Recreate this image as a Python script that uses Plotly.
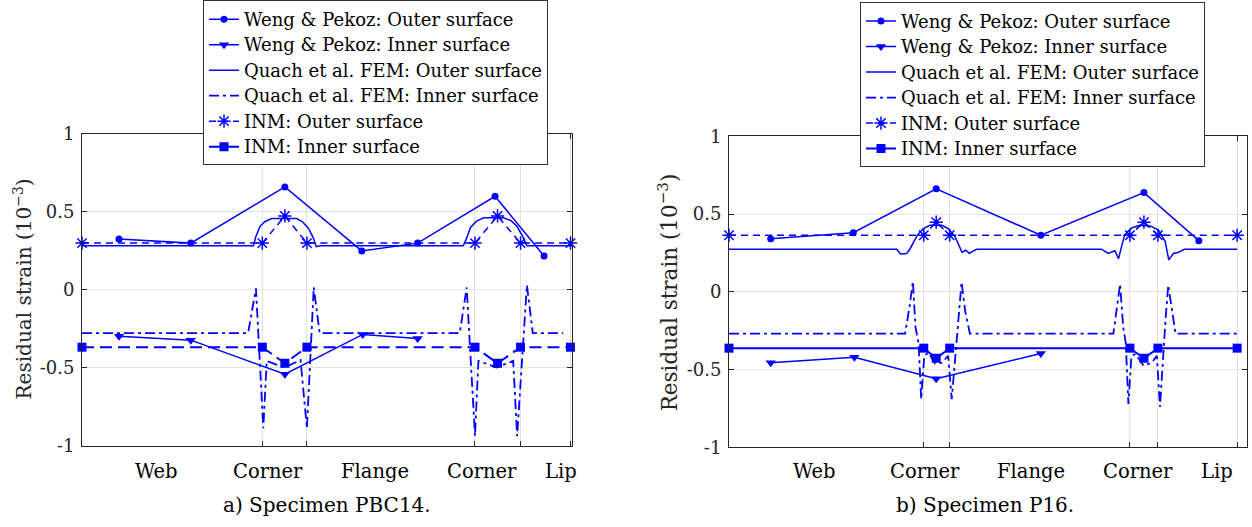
import plotly.graph_objects as go

BLUE = "#0000ff"
FONT = "DejaVu Serif, Liberation Serif, serif"

# ---------------- Panel a) Specimen PBC14 ----------------
a_bounds = [36.8, 45.9, 80.2, 89.5, 99.7]
a_labels = ["Web", "Corner", "Flange", "Corner", "Lip"]
a_label_x = [15.0, 37.9, 59.7, 81.6, 97.7]

a_weng_out_x = [7.55, 22.2, 41.4, 57.1, 68.5, 84.3, 94.3]
a_weng_out_y = [0.326, 0.30, 0.66, 0.25, 0.30, 0.60, 0.217]

a_weng_in_x = [7.55, 22.2, 41.4, 57.3, 68.5]
a_weng_in_y = [-0.297, -0.322, -0.54, -0.285, -0.312]

a_fem_out_x = [0, 35.0, 35.4, 36.3, 37.3, 38.7, 43.8, 45.0, 46.2, 47.2, 47.8, 48.6,
               77.8, 78.4, 79.3, 80.5, 82.0, 86.0, 87.5, 88.8, 89.9, 90.8, 100]
a_fem_out_y = [0.283, 0.283, 0.334, 0.406, 0.437, 0.457, 0.457, 0.437, 0.396, 0.334, 0.277, 0.283,
               0.283, 0.324, 0.40, 0.441, 0.462, 0.462, 0.445, 0.406, 0.345, 0.283, 0.283]

a_fem_in_x = [0, 33.9, 35.5, 37.0, 37.7, 41.3, 44.6, 45.9, 47.3, 48.5,
              77.1, 78.5, 80.2, 80.9, 84.6, 88.0, 88.8, 90.8, 92.0, 98.2]
a_fem_in_y = [-0.277, -0.277, 0.010, -0.886, -0.455, -0.497, -0.45, -0.886, 0.017, -0.277,
              -0.277, 0.016, -0.937, -0.455, -0.497, -0.455, -0.937, 0.031, -0.277, -0.277]

a_inm_x = [0, 36.8, 41.4, 45.9, 80.2, 84.8, 89.5, 99.7]
a_inm_out_y = [0.30, 0.30, 0.474, 0.30, 0.30, 0.474, 0.30, 0.30]
a_inm_in_y = [-0.367, -0.367, -0.47, -0.367, -0.367, -0.47, -0.367, -0.367]

# ---------------- Panel b) Specimen P16 ----------------
b_bounds = [37.6, 42.6, 77.4, 82.8, 98.1]
b_labels = ["Web", "Corner", "Flange", "Corner", "Lip"]
b_label_x = [16.4, 37.8, 58.3, 78.9, 94.2]

b_weng_out_x = [8.05, 24.0, 40.0, 60.2, 80.1, 90.7]
b_weng_out_y = [0.342, 0.380, 0.663, 0.364, 0.638, 0.329]

b_weng_in_x = [8.05, 24.2, 40.0, 60.2]
b_weng_in_y = [-0.456, -0.421, -0.558, -0.397]

b_fem_out_x = [0, 32.4, 33.1, 34.3, 34.9, 35.4, 36.4, 37.5, 38.8, 41.1, 42.3, 43.6, 44.6, 45.0,
               45.7, 46.4, 47.0, 47.8, 71.9, 73.2, 74.5, 75.2, 75.8, 76.4, 77.7, 79.3, 81.3,
               82.9, 84.2, 84.9, 85.8, 86.8, 87.9, 98.1]
b_fem_out_y = [0.274, 0.274, 0.243, 0.247, 0.274, 0.305, 0.366, 0.407, 0.428, 0.428, 0.407, 0.356,
               0.284, 0.254, 0.268, 0.247, 0.26, 0.274, 0.274, 0.247, 0.264, 0.213, 0.294, 0.366,
               0.411, 0.428, 0.424, 0.397, 0.325, 0.206, 0.247, 0.254, 0.274, 0.274]

b_fem_in_x = [0, 34.0, 34.9, 35.5, 36.0, 36.6, 37.1, 37.7, 38.5, 39.8, 41.1, 42.3, 43.0, 43.8,
              44.3, 44.9, 45.6, 46.5, 74.2, 75.0, 75.5, 76.1, 76.6, 77.1, 77.7, 78.5, 80.0,
              81.6, 82.6, 83.2, 83.8, 84.3, 84.8, 85.5, 86.2, 98.1]
b_fem_in_y = [-0.268, -0.268, -0.084, 0.067, -0.227, -0.33, -0.69, -0.411, -0.39, -0.462, -0.456,
              -0.411, -0.69, -0.39, -0.166, 0.063, -0.125, -0.268, -0.268, -0.084, 0.049, -0.227,
              -0.33, -0.72, -0.411, -0.40, -0.474, -0.456, -0.411, -0.74, -0.39, -0.166, 0.043,
              -0.125, -0.268, -0.268]

b_inm_x = [0, 37.6, 40.0, 42.6, 77.4, 80.1, 82.8, 98.1]
b_inm_out_y = [0.364, 0.364, 0.448, 0.364, 0.364, 0.448, 0.364, 0.364]
b_inm_in_y = [-0.362, -0.362, -0.427, -0.362, -0.362, -0.427, -0.362, -0.362]

y_ticks = [-1, -0.5, 0, 0.5, 1]
y_ticktext = ["-1", "-0.5", "0", "0.5", "1"]

names = ["Weng & Pekoz: Outer surface", "Weng & Pekoz: Inner surface",
         "Quach et al. FEM: Outer surface", "Quach et al. FEM: Inner surface",
         "INM: Outer surface", "INM: Inner surface"]

fig = go.Figure()


def nm(s):
    return '<span style="font-size:18px">' + s + '</span>'


def add_panel(xa, ya, leg, wox, woy, wix, wiy, fox, foy, fix, fiy, ix, ioy, iiy, inm_in_dash):
    common = dict(xaxis=xa, yaxis=ya, legend=leg, cliponaxis=False, mode="lines+markers")
    fig.add_trace(go.Scatter(x=wox, y=woy, name=nm(names[0]),
                             line=dict(color=BLUE, width=1.5),
                             marker=dict(symbol="circle", size=7, color=BLUE), **common))
    fig.add_trace(go.Scatter(x=wix, y=wiy, name=nm(names[1]),
                             line=dict(color=BLUE, width=1.5),
                             marker=dict(symbol="triangle-down", size=9, color=BLUE), **common))
    c2 = dict(common)
    c2["mode"] = "lines"
    fig.add_trace(go.Scatter(x=fox, y=foy, name=nm(names[2]),
                             line=dict(color=BLUE, width=1.5), **c2))
    fig.add_trace(go.Scatter(x=fix, y=fiy, name=nm(names[3]),
                             line=dict(color=BLUE, width=1.8, dash="10px,4px,3px,4px"), **c2))
    fig.add_trace(go.Scatter(x=ix, y=ioy, name=nm(names[4]),
                             line=dict(color=BLUE, width=1.5, dash="7px,5px"),
                             marker=dict(symbol="asterisk-open", size=11,
                                         line=dict(color=BLUE, width=1.5)), **common))
    fig.add_trace(go.Scatter(x=ix, y=iiy, name=nm(names[5]),
                             line=dict(color=BLUE, width=2, dash=inm_in_dash),
                             marker=dict(symbol="square", size=9, color=BLUE), **common))


add_panel("x", "y", "legend", a_weng_out_x, a_weng_out_y, a_weng_in_x, a_weng_in_y,
          a_fem_out_x, a_fem_out_y, a_fem_in_x, a_fem_in_y, a_inm_x, a_inm_out_y, a_inm_in_y,
          "12px,6px")
add_panel("x2", "y2", "legend2", b_weng_out_x, b_weng_out_y, b_weng_in_x, b_weng_in_y,
          b_fem_out_x, b_fem_out_y, b_fem_in_x, b_fem_in_y, b_inm_x, b_inm_out_y, b_inm_in_y,
          "solid")

AX = "#262626"
GRID = "#e2e2e2"


def xaxis(domain, anchor, ticks):
    return dict(domain=domain, anchor=anchor, range=[0, 100], tickvals=ticks,
                showticklabels=False, ticks="inside", ticklen=5, tickcolor=AX,
                showline=True, linecolor=AX, linewidth=1, mirror="ticks",
                showgrid=True, gridcolor=GRID, gridwidth=1, zeroline=False)


def yaxis(domain, anchor):
    return dict(domain=domain, anchor=anchor, range=[-1, 1], tickvals=y_ticks,
                ticktext=y_ticktext, ticks="inside", ticklen=5, tickcolor=AX,
                tickfont=dict(family=FONT, size=18, color=AX), ticklabelstandoff=3,
                showline=True, linecolor=AX, linewidth=1, mirror="ticks",
                showgrid=True, gridcolor=GRID, gridwidth=1, zeroline=False)


W, H = 1252, 527
legend_common = dict(bgcolor="white", bordercolor="#333333", borderwidth=1,
                     font=dict(family=FONT, size=17.3, color="black"),
                     itemwidth=30, tracegroupgap=0, xanchor="left", yanchor="top")

fig.update_layout(
    width=W, height=H, margin=dict(l=0, r=0, t=0, b=0),
    paper_bgcolor="white", plot_bgcolor="white", showlegend=True,
    xaxis=xaxis([82 / W, 572 / W], "y", a_bounds),
    yaxis=yaxis([1 - 453 / H, 1 - 128 / H], "x"),
    xaxis2=xaxis([729 / W, 1247 / W], "y2", b_bounds),
    yaxis2=yaxis([1 - 454.5 / H, 1 - 130.5 / H], "x2"),
    legend=dict(x=203 / W, y=1 + 11 / H, **legend_common),
    legend2=dict(x=860 / W, y=1 + 9 / H, **legend_common),
)

LBL = dict(family=FONT, size=19.5, color="black")
CAP = dict(family=FONT, size=20, color="black")
ann = []
for lx, lt in zip(a_label_x, a_labels):
    ann.append(dict(x=lx, y=1 - 480 / H, xref="x", yref="paper", text=lt, showarrow=False,
                    xanchor="center", yanchor="middle", font=LBL))
for lx, lt in zip(b_label_x, b_labels):
    ann.append(dict(x=lx, y=1 - 480 / H, xref="x2", yref="paper", text=lt, showarrow=False,
                    xanchor="center", yanchor="middle", font=LBL))
ann.append(dict(x=327 / W, y=1 - 515 / H, xref="paper", yref="paper", text="a) Specimen PBC14.",
                showarrow=False, xanchor="center", yanchor="middle", font=CAP))
ann.append(dict(x=985 / W, y=1 - 515 / H, xref="paper", yref="paper", text="b) Specimen P16.",
                showarrow=False, xanchor="center", yanchor="middle", font=CAP))
ann.append(dict(x=23 / W, y=1 - 290 / H, xref="paper", yref="paper",
                text="Residual strain (10<sup>−3</sup>)", textangle=-90, showarrow=False,
                xanchor="center", yanchor="middle",
                font=dict(family=FONT, size=20, color=AX)))
ann.append(dict(x=668 / W, y=1 - 293 / H, xref="paper", yref="paper",
                text="Residual strain (10<sup>−3</sup>)", textangle=-90, showarrow=False,
                xanchor="center", yanchor="middle",
                font=dict(family=FONT, size=21.5, color=AX)))
fig.update_layout(annotations=ann)

fig.write_html("out.html")
